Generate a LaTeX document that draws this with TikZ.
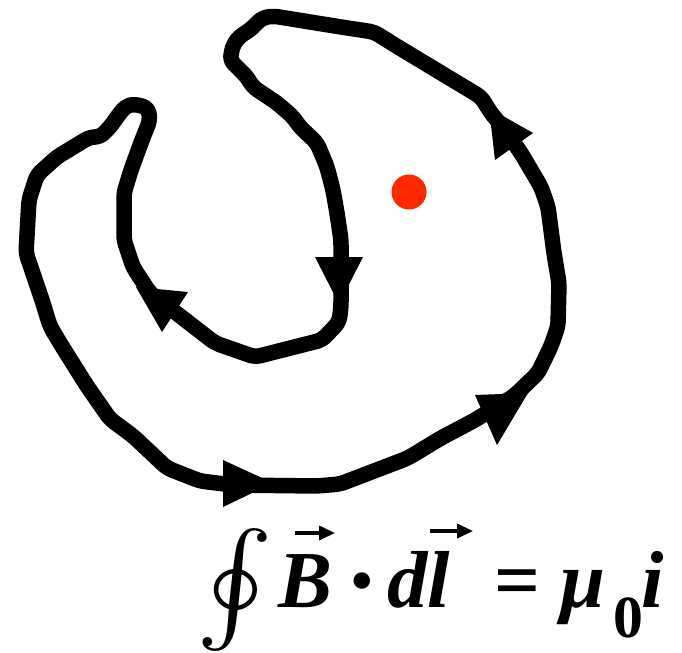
\documentclass[tikz,border=0pt]{standalone}
\usepackage{amsmath}
\usepackage{graphicx}
\usepackage{fontspec}
\setmainfont{Liberation Serif}
\usetikzlibrary{arrows.meta, calc, positioning}
\definecolor{wirered}{RGB}{255,41,0}

\begin{document}
\begin{tikzpicture}[x=0.02cm, y=-0.02cm,
    wirepath/.style={line width=0.31cm, line join=round, rounded corners=3pt},
    arrowtri/.style={fill=black},
    term/.style={inner sep=0pt, anchor=base west, font=\fontsize{46}{50}\selectfont\bfseries\itshape},
    vecarrow/.style={line width=1.8pt, -{Triangle[length=9pt, width=8pt]}}]
    \useasboundingbox (0,0) rectangle (682,652);
    \draw[wirepath] (340,484) -- (374,471) -- (408,458) -- (441,438) -- (475,420) -- (514,396)
        -- (538,373) -- (551,346) -- (558,326) -- (559,283) -- (554,253) -- (548,207) -- (541,187)
        -- (521,153) -- (505,130) -- (491,113) -- (481,97) -- (398,47) -- (374,32) -- (341,27)
        -- (273,16) -- (262,18) -- (250,30) -- (240,36) -- (233,45) -- (230,60) -- (247,77)
        -- (253,87) -- (277,103) -- (293,117) -- (300,127) -- (317,143) -- (327,167) -- (333,190)
        -- (337,213) -- (341,240) -- (341,307) -- (339,322) -- (322,340) -- (255,357) -- (215,343)
        -- (175,312) -- (150,293) -- (133,267) -- (124,240) -- (124,193) -- (131,170) -- (142,140)
        -- (150,120) -- (148,108) -- (135,104) -- (126,106) -- (120,113) -- (110,127) -- (100,137)
        -- (90,137) -- (80,143) -- (57,157) -- (37,175) -- (29,200) -- (26,253) -- (42,300)
        -- (50,326) -- (60,343) -- (87,386) -- (110,419) -- (133,436) -- (167,468) -- (200,481)
        -- (233,485) -- (317,486) -- cycle;
    \fill[arrowtri] (223,460) -- (223,507) -- (273,483) -- cycle;
    \fill[arrowtri] (475,395) -- (497,445) -- (528,393) -- cycle;
    \fill[arrowtri] (495,160) -- (533,133) -- (489,108) -- cycle;
    \fill[arrowtri] (315,257) -- (363,257) -- (339,304) -- cycle;
    \fill[arrowtri] (188,292) -- (162,332) -- (136,287) -- cycle;
    \node[circle, fill=wirered, minimum size=0.7cm, inner sep=0pt] (wire) at (409,192) {};

    \node[inner sep=0pt, anchor=north west] (oint) at (196,528) {\scalebox{6.6}[6.3]{$\oint$}};
    \node[term] (bvec) at (278,607) {B};
    \node[inner sep=0pt, anchor=base] (dotop) at (362,607) {\scalebox{6}{$\boldsymbol{\cdot}$}};
    \node[term] (dl) at (387,607) {dl};
    \node[term, font=\fontsize{46}{50}\selectfont\bfseries] (eqsign) at (494,607) {=};
    \node[term] (mu) at (560,607) {μ};
    \node[term, font=\fontsize{34}{36}\selectfont\bfseries] (sub0) at (613,637) {0};
    \node[term] (icur) at (641,607) {i};
    \draw[vecarrow] ($(bvec.base west)+(17,-74)$) -- ++(40,0);
    \draw[vecarrow] ($(dl.base west)+(43,-76)$) -- ++(43,0);
\end{tikzpicture}
\end{document}
